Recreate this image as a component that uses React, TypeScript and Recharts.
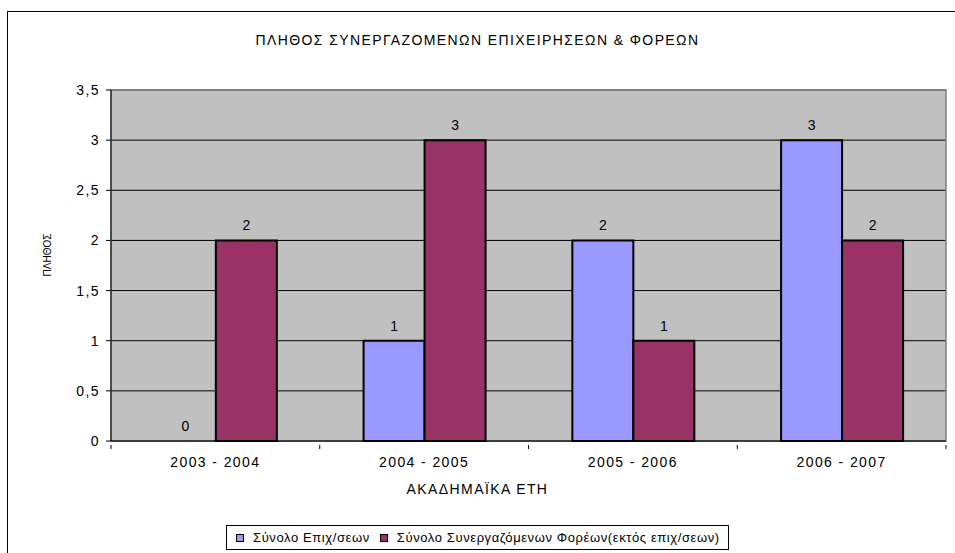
import React from 'react';
import { BarChart, Bar, XAxis, YAxis, CartesianGrid, LabelList, ReferenceArea, Rectangle } from 'recharts';

const categories = ['2003 - 2004', '2004 - 2005', '2005 - 2006', '2006 - 2007'];
const seriesEpix = [0, 1, 2, 3];
const seriesForeis = [2, 3, 1, 2];
const yTicks = [0, 0.5, 1, 1.5, 2, 2.5, 3, 3.5];
const seriesNames = ['Σύνολο Επιχ/σεων', 'Σύνολο Συνεργαζόμενων Φορέων(εκτός επιχ/σεων)'];
const seriesColors = ['#9999FF', '#993366'];
const title = 'ΠΛΗΘΟΣ ΣΥΝΕΡΓΑΖΟΜΕΝΩΝ ΕΠΙΧΕΙΡΗΣΕΩΝ & ΦΟΡΕΩΝ';
const xTitle = 'ΑΚΑΔΗΜΑΪΚΑ ΕΤΗ';
const yTitle = 'ΠΛΗΘΟΣ';

const data = categories.map((c, i) => ({ cat: c, epix: seriesEpix[i], foreis: seriesForeis[i] }));

const FONT = '"Liberation Sans", Arial, sans-serif';
const FS = 14;
const LS = 1.4;

const fmt = (v: number) => String(v).replace('.', ',');

const XTick = (props: any) => {
  const { x, y, payload, index } = props;
  const off = payload.offset || 0;
  return (
    <g>
      {index === 0 && <line x1={x - off} x2={x - off} y1={y - 4} y2={y} stroke="#000" />}
      <line x1={x + off} x2={x + off} y1={y - 4} y2={y} stroke="#000" />
      <text x={x} y={y + 8} textAnchor="middle" dominantBaseline="hanging" fontSize={FS} fontFamily={FONT} letterSpacing={LS} fill="#000">
        {payload.value}
      </text>
    </g>
  );
};

const BarLabel = (props: any) => {
  const { x, y, width, height, value } = props;
  const top = Number(value) === 0 ? Number(y) + Number(height) : Number(y);
  return (
    <text x={Number(x) + Number(width) / 2} y={top - 10} textAnchor="middle" fontSize={FS} fontFamily={FONT} fill="#000">
      {value}
    </text>
  );
};

const makeShape = (key: string) => (props: any) => {
  if (props.payload && Number(props.payload[key]) === 0) return <g />;
  return <Rectangle {...props} />;
};

const minSize = (value: any) => (Number(value) === 0 ? 1 : 0);

export default function App() {
  return (
    <div style={{ position: 'absolute', left: 0, top: 0, width: 955, height: 553, overflow: 'hidden', background: '#fff', fontFamily: FONT }}>
      <div style={{ position: 'absolute', left: 7, top: 11, width: 960, height: 560, border: '1px solid #000' }} />
      <div style={{ position: 'absolute', left: 0, top: 0 }}>
        <BarChart width={955} height={553} data={data} margin={{ top: 90, right: 9, bottom: 82, left: 51 }} barCategoryGap="21%" barGap={0}>
          <CartesianGrid vertical={false} stroke="#000" fill="#C0C0C0" fillOpacity={1} />
          <ReferenceArea y1={0} y2={3.5} fill="none" stroke="#808080" strokeWidth={1.5} />
          <XAxis dataKey="cat" height={30} stroke="#000" tickLine={false} tick={<XTick />} interval={0} />
          <YAxis
            width={60}
            domain={[0, 3.5]}
            ticks={yTicks}
            tickFormatter={fmt}
            stroke="#000"
            tickSize={5}
            tickMargin={6}
            tick={{ fontSize: FS, fontFamily: FONT, fill: '#000', letterSpacing: LS }}
            interval={0}
          />
          <Bar dataKey="epix" fill={seriesColors[0]} stroke="#000" strokeWidth={2} isAnimationActive={false} minPointSize={minSize} shape={makeShape('epix')}>
            <LabelList dataKey="epix" content={<BarLabel />} />
          </Bar>
          <Bar dataKey="foreis" fill={seriesColors[1]} stroke="#000" strokeWidth={2} isAnimationActive={false} minPointSize={minSize} shape={makeShape('foreis')}>
            <LabelList dataKey="foreis" content={<BarLabel />} />
          </Bar>
        </BarChart>
      </div>
      <div style={{ position: 'absolute', left: 0, width: 955, top: 32, textAlign: 'center', fontSize: FS, letterSpacing: LS, color: '#000' }}>{title}</div>
      <div style={{ position: 'absolute', left: 0, width: 955, top: 481, textAlign: 'center', fontSize: FS, letterSpacing: LS, color: '#000' }}>{xTitle}</div>
      <div style={{ position: 'absolute', left: 47, top: 255, transform: 'translate(-50%, -50%) rotate(-90deg)', fontSize: 10, color: '#000', whiteSpace: 'nowrap' }}>{yTitle}</div>
      <div style={{ position: 'absolute', left: 226, top: 525, width: 503, height: 25, border: '1px solid #000', display: 'flex', alignItems: 'center', fontSize: 13, letterSpacing: 0.6, color: '#000', boxSizing: 'border-box', paddingLeft: 9, whiteSpace: 'nowrap' }}>
        {seriesNames.map((n, i) => (
          <div key={n} style={{ display: 'flex', alignItems: 'center', marginRight: 10 }}>
            <span style={{ display: 'inline-block', width: 6, height: 6, background: seriesColors[i], border: '1.5px solid #000', marginRight: 9 }} />
            <span>{n}</span>
          </div>
        ))}
      </div>
    </div>
  );
}
